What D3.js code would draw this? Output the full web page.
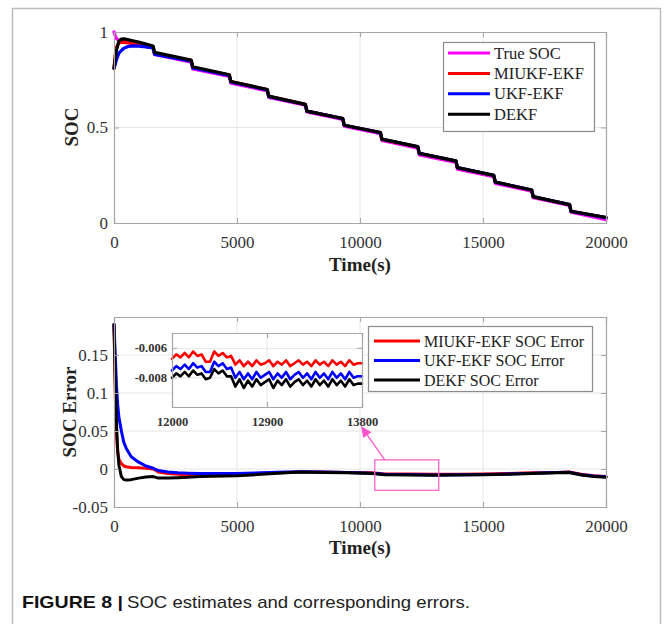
<!DOCTYPE html>
<html>
<head>
<meta charset="utf-8">
<script src="https://cdn.jsdelivr.net/npm/d3@7"></script>
<style>
  html, body { margin: 0; padding: 0; background: #fff; }
  svg { display: block; }
</style>
</head>
<body>
<svg id="fig" width="664" height="624"></svg>
<script>
// ---- SOC estimates (top panel) ----
const socTime = [0,50,100,200,300,400,600,800,1000,1300,1590,1650,3140,3200,4690,4750,6230,6290,7780,7840,9300,9360,10830,10890,12350,12410,13900,13960,15440,15500,16980,17040,18520,18580,20000];
const socTrue = [1.000,0.980,0.965,0.957,0.953,0.950,0.945,0.940,0.935,0.926,0.917,0.882,0.842,0.807,0.767,0.732,0.692,0.657,0.617,0.582,0.542,0.507,0.467,0.432,0.392,0.357,0.317,0.282,0.242,0.207,0.167,0.132,0.092,0.057,0.018];
const socMIUKF = [0.810,0.880,0.920,0.944,0.946,0.946,0.943,0.938,0.934,0.925,0.917,0.885,0.850,0.815,0.775,0.740,0.698,0.663,0.621,0.586,0.5465,0.5115,0.473,0.438,0.3986,0.3635,0.324,0.289,0.2485,0.2135,0.172,0.137,0.096,0.061,0.028];
const socUKF = [0.810,0.830,0.855,0.889,0.903,0.915,0.925,0.927,0.926,0.922,0.916,0.883,0.8475,0.8125,0.773,0.738,0.6968,0.6618,0.6206,0.5856,0.5465,0.5115,0.4735,0.4385,0.3994,0.3644,0.3248,0.2898,0.2491,0.2141,0.1727,0.1377,0.0962,0.0612,0.0283];
const socDEKF = [0.810,0.860,0.905,0.952,0.963,0.964,0.959,0.953,0.947,0.937,0.927,0.893,0.853,0.818,0.776,0.741,0.699,0.664,0.621,0.586,0.547,0.512,0.474,0.439,0.400,0.365,0.325,0.290,0.2495,0.2145,0.173,0.138,0.0965,0.0615,0.029];

// ---- SOC errors (bottom panel) ----
const errTime = [0,50,100,150,200,300,400,500,700,1000,1300,1600,1800,2200,2600,3000,3500,4000,5000,6000,7000,7600,8500,9500,10500,11000,12000,13000,14000,15000,16000,17000,18000,18500,19000,19500,20000];
const errMIUKF = [0.190,0.100,0.045,0.022,0.013,0.007,0.004,0.003,0.002,0.0015,0.001,0.000,-0.004,-0.006,-0.007,-0.008,-0.009,-0.0085,-0.008,-0.006,-0.0045,-0.004,-0.004,-0.0045,-0.005,-0.0065,-0.0066,-0.007,-0.0068,-0.0065,-0.006,-0.005,-0.0045,-0.004,-0.007,-0.009,-0.010];
const errUKF = [0.190,0.150,0.110,0.085,0.068,0.050,0.035,0.027,0.016,0.009,0.004,0.001,-0.002,-0.004,-0.005,-0.0055,-0.006,-0.006,-0.006,-0.005,-0.004,-0.0035,-0.004,-0.0045,-0.0055,-0.007,-0.0074,-0.0079,-0.0077,-0.0072,-0.0067,-0.0057,-0.0047,-0.0042,-0.0075,-0.0093,-0.0103];
const errDEKF = [0.190,0.120,0.060,0.025,0.005,-0.010,-0.014,-0.0145,-0.014,-0.012,-0.0105,-0.010,-0.012,-0.012,-0.0115,-0.011,-0.010,-0.0095,-0.009,-0.007,-0.005,-0.004,-0.0045,-0.005,-0.006,-0.0075,-0.008,-0.0083,-0.008,-0.0075,-0.007,-0.006,-0.005,-0.0045,-0.008,-0.010,-0.011];

// ---- zoomed window 12000-13800 s (values in 1e-3) ----
const zoomTime = [12000,12040,12080,12120,12160,12200,12240,12280,12320,12360,12400,12440,12480,12520,12560,12600,12640,12680,12720,12760,12800,12840,12880,12920,12960,13000,13040,13080,13120,13160,13200,13240,13280,13320,13360,13400,13440,13480,13520,13560,13600,13640,13680,13720,13760,13800];
const zoomMIUKF = [-6.7,-6.4,-6.6,-6.3,-6.6,-6.2,-6.5,-6.4,-6.9,-6.9,-6.2,-6.5,-6.3,-6.6,-6.5,-7.1,-6.8,-7.2,-6.9,-7.2,-6.8,-7.1,-7.0,-6.8,-7.2,-6.9,-7.1,-6.8,-7.2,-7.0,-6.8,-7.1,-6.9,-7.2,-6.8,-7.1,-6.9,-7.2,-6.8,-7.1,-6.9,-7.2,-6.8,-7.1,-7.0,-7.0];
const zoomUKF = [-7.5,-7.2,-7.4,-7.1,-7.4,-7.0,-7.3,-7.2,-7.6,-7.6,-6.9,-7.2,-7.0,-7.4,-7.3,-8.0,-7.6,-8.1,-7.7,-8.1,-7.6,-8.0,-7.8,-7.6,-8.1,-7.7,-8.0,-7.6,-8.1,-7.8,-7.6,-8.0,-7.7,-8.1,-7.6,-8.0,-7.7,-8.1,-7.6,-8.0,-7.7,-8.1,-7.6,-8.0,-7.9,-7.9];
const zoomDEKF = [-8.0,-7.7,-7.9,-7.6,-7.9,-7.5,-7.8,-7.7,-8.1,-8.0,-7.4,-7.7,-7.5,-7.9,-7.9,-8.6,-8.1,-8.7,-8.2,-8.6,-8.1,-8.5,-8.3,-8.1,-8.7,-8.2,-8.5,-8.1,-8.6,-8.3,-8.1,-8.5,-8.2,-8.6,-8.1,-8.5,-8.2,-8.6,-8.1,-8.5,-8.2,-8.6,-8.1,-8.5,-8.4,-8.4];

// ---- ticks and labels ----
const timeTicks = [0,5000,10000,15000,20000];
const socTicks = [0,0.5,1];
const socTickLabels = ["0","0.5","1"];
const errTicks = [-0.05,0,0.05,0.1,0.15];
const errTickLabels = ["-0.05","0","0.05","0.1","0.15"];
const zoomXTicks = [12000,12900,13800];
const zoomYTicks = [-0.006,-0.008];
const zoomYTickLabels = ["-0.006","-0.008"];
const socNames = ["True SOC","MIUKF-EKF","UKF-EKF","DEKF"];
const errNames = ["MIUKF-EKF SOC Error","UKF-EKF SOC Error","DEKF SOC Error"];
const zoomBox = { t0: 10600, t1: 13200, e0: -0.028, e1: 0.012 };

const colTrue = "#ff00ff", colMI = "#ff0000", colUKF = "#0000ff", colDEKF = "#000000";
const serif = "'Liberation Serif','Times New Roman',serif";
const axisGray = "#a6a6a6", gridGray = "#e6e6e6", labelCol = "#333";

const svg = d3.select("#fig");

// outer figure frame
svg.append("path")
  .attr("d", "M12.5,624 V8.5 H660.5 V624")
  .attr("fill", "none").attr("stroke", "#bdbdbd").attr("stroke-width", 1.5);

function panel(x, y, opts) {
  const g = svg.append("g");
  const [x0, x1] = x.range(), [y0, y1] = y.range();
  // grid
  g.append("g").selectAll("line").data(opts.xGrid).join("line")
    .attr("x1", d => x(d)).attr("x2", d => x(d)).attr("y1", y0).attr("y2", y1)
    .attr("stroke", gridGray).attr("stroke-width", 1);
  g.append("g").selectAll("line").data(opts.yGrid).join("line")
    .attr("y1", d => y(d)).attr("y2", d => y(d)).attr("x1", x0).attr("x2", x1)
    .attr("stroke", gridGray).attr("stroke-width", 1);
  return g;
}

function frameAxes(g, x, y, xt, yt, xfmt, yfmt, fs, bold, pad) {
  const [x0, x1] = x.range(), [y0, y1] = y.range();
  const ax = g.append("g").attr("transform", `translate(0,${y0})`)
    .call(d3.axisBottom(x).tickValues(xt).tickSize(-5).tickPadding(pad.x).tickFormat(xfmt));
  const ay = g.append("g").attr("transform", `translate(${x0},0)`)
    .call(d3.axisLeft(y).tickValues(yt).tickSize(-5).tickPadding(pad.y).tickFormat(yfmt));
  const at = g.append("g").attr("transform", `translate(0,${y1})`)
    .call(d3.axisTop(x).tickValues(xt).tickSize(-5).tickFormat(""));
  const ar = g.append("g").attr("transform", `translate(${x1},0)`)
    .call(d3.axisRight(y).tickValues(yt).tickSize(-5).tickFormat(""));
  [ax, ay, at, ar].forEach(a => {
    a.selectAll("path.domain").attr("stroke", axisGray).attr("stroke-width", 1.2);
    a.selectAll(".tick line").attr("stroke", axisGray);
    a.selectAll("text").attr("fill", labelCol).style("font-family", serif)
      .style("font-size", fs + "px").style("font-weight", bold ? "bold" : "normal");
  });
}

function drawLine(g, x, y, ts, vs, color, w, scale) {
  const pts = ts.map((t, i) => [t, vs[i] * (scale || 1)]);
  g.append("path").datum(pts)
    .attr("d", d3.line().x(d => x(d[0])).y(d => y(d[1])))
    .attr("fill", "none").attr("stroke", color).attr("stroke-width", w)
    .attr("stroke-linejoin", "round").attr("stroke-linecap", "round");
}

// ================= top panel =================
const x1s = d3.scaleLinear([0, 20000], [114, 606]);
const y1s = d3.scaleLinear([0, 1], [223, 32]);
const gTop = panel(x1s, y1s, { xGrid: [5000, 10000, 15000], yGrid: [0.5] });
const clipTop = svg.append("clipPath").attr("id", "clipTop").append("rect")
  .attr("x", 114).attr("y", 28).attr("width", 494).attr("height", 197);
const gTopLines = gTop.append("g");
drawLine(gTopLines, x1s, y1s, socTime, socTrue, colTrue, 3.2);
drawLine(gTopLines, x1s, y1s, socTime, socMIUKF, colMI, 3.2);
drawLine(gTopLines, x1s, y1s, socTime, socUKF, colUKF, 3.2);
drawLine(gTopLines, x1s, y1s, socTime, socDEKF, colDEKF, 3.2);
frameAxes(gTop, x1s, y1s, timeTicks, socTicks, d3.format("d"), (d, i) => socTickLabels[socTicks.indexOf(d)], 17, false, { x: 13, y: 6 });

gTop.append("text").attr("x", 360).attr("y", 271).attr("text-anchor", "middle")
  .style("font-family", serif).style("font-size", "19px").style("font-weight", "bold")
  .attr("fill", "#222").text("Time(s)");
gTop.append("text").attr("transform", "translate(78,127) rotate(-90)").attr("text-anchor", "middle")
  .style("font-family", serif).style("font-size", "19px").style("font-weight", "bold")
  .attr("fill", "#222").text("SOC");

// legend (top)
const lgTop = gTop.append("g");
lgTop.append("rect").attr("x", 443.5).attr("y", 42.5).attr("width", 151).attr("height", 89)
  .attr("fill", "#fff").attr("stroke", "#8c8c8c").attr("stroke-width", 1.2);
[colTrue, colMI, colUKF, colDEKF].forEach((c, i) => {
  const yy = 53 + i * 20.4;
  lgTop.append("line").attr("x1", 448).attr("x2", 490).attr("y1", yy).attr("y2", yy)
    .attr("stroke", c).attr("stroke-width", 3);
  lgTop.append("text").attr("x", 494).attr("y", yy + 5.5)
    .style("font-family", serif).style("font-size", "16.5px").attr("fill", "#222").text(socNames[i]);
});

// ================= bottom panel =================
const x2s = d3.scaleLinear([0, 20000], [114, 606]);
const y2s = d3.scaleLinear([-0.05, 0.2], [507, 317]);
const gBot = panel(x2s, y2s, { xGrid: [5000, 10000, 15000], yGrid: errTicks.slice(1) });
drawLine(gBot, x2s, y2s, errTime, errMIUKF, colMI, 3);
drawLine(gBot, x2s, y2s, errTime, errUKF, colUKF, 3);
drawLine(gBot, x2s, y2s, errTime, errDEKF, colDEKF, 3);
frameAxes(gBot, x2s, y2s, timeTicks, errTicks, d3.format("d"), d => errTickLabels[errTicks.indexOf(d)], 17, false, { x: 13, y: 6 });

gBot.append("text").attr("x", 360).attr("y", 554).attr("text-anchor", "middle")
  .style("font-family", serif).style("font-size", "19px").style("font-weight", "bold")
  .attr("fill", "#222").text("Time(s)");
gBot.append("text").attr("transform", "translate(76,412) rotate(-90)").attr("text-anchor", "middle")
  .style("font-family", serif).style("font-size", "19px").style("font-weight", "bold")
  .attr("fill", "#222").text("SOC Error");

// legend (bottom)
const lgBot = gBot.append("g");
lgBot.append("rect").attr("x", 368.5).attr("y", 326.5).attr("width", 224).attr("height", 65)
  .attr("fill", "#fff").attr("stroke", "#8c8c8c").attr("stroke-width", 1.2);
[colMI, colUKF, colDEKF].forEach((c, i) => {
  const yy = 341 + i * 19.5;
  lgBot.append("line").attr("x1", 374).attr("x2", 420).attr("y1", yy).attr("y2", yy)
    .attr("stroke", c).attr("stroke-width", 3);
  lgBot.append("text").attr("x", 424).attr("y", yy + 5.5)
    .style("font-family", serif).style("font-size", "16px").attr("fill", "#222").text(errNames[i]);
});

// highlighted window and pointer
const bx0 = x2s(zoomBox.t0), bx1 = x2s(zoomBox.t1), by0 = y2s(zoomBox.e1), by1 = y2s(zoomBox.e0);
gBot.append("rect").attr("x", bx0).attr("y", by0).attr("width", bx1 - bx0).attr("height", by1 - by0)
  .attr("fill", "none").attr("stroke", "#ff66cc").attr("stroke-width", 1.3);

// ================= inset =================
const xis = d3.scaleLinear([12000, 13800], [172, 362]);
const yis = d3.scaleLinear([-0.010, -0.005], [407, 334]);
const gIn = svg.append("g");
gIn.append("rect").attr("x", 172).attr("y", 333).attr("width", 190).attr("height", 74).attr("fill", "#fff");
gIn.selectAll("line.gx").data([12900]).join("line").attr("class", "gx")
  .attr("x1", d => xis(d)).attr("x2", d => xis(d)).attr("y1", 333).attr("y2", 407)
  .attr("stroke", gridGray);
gIn.selectAll("line.gy").data(zoomYTicks).join("line").attr("class", "gy")
  .attr("y1", d => yis(d)).attr("y2", d => yis(d)).attr("x1", 172).attr("x2", 362)
  .attr("stroke", gridGray);
drawLine(gIn, xis, yis, zoomTime, zoomMIUKF, colMI, 2.6, 1e-3);
drawLine(gIn, xis, yis, zoomTime, zoomUKF, colUKF, 2.6, 1e-3);
drawLine(gIn, xis, yis, zoomTime, zoomDEKF, colDEKF, 2.6, 1e-3);
yis.range([407, 333]);
frameAxes(gIn, xis, yis, zoomXTicks, zoomYTicks, d3.format("d"), d => zoomYTickLabels[zoomYTicks.indexOf(d)], 12.5, true, { x: 10, y: 5 });
yis.range([407, 334]);

// arrow from window to inset
const tail = [bx0 + 10, by0], tip = [xis(13800) - 1, 426];
const ang = Math.atan2(tip[1] - tail[1], tip[0] - tail[0]);
const headLen = 11, headW = 5;
const base = [tip[0] - headLen * Math.cos(ang), tip[1] - headLen * Math.sin(ang)];
svg.append("line").attr("x1", tail[0]).attr("y1", tail[1]).attr("x2", base[0]).attr("y2", base[1])
  .attr("stroke", "#ff55cc").attr("stroke-width", 1.3);
svg.append("polygon")
  .attr("points", [tip,
    [base[0] + headW * Math.sin(ang), base[1] - headW * Math.cos(ang)],
    [base[0] - headW * Math.sin(ang), base[1] + headW * Math.cos(ang)]].map(p => p.join(",")).join(" "))
  .attr("fill", "#ff55cc");

// ================= caption =================
const sans = "'Liberation Sans Narrow','Liberation Sans',Arial,sans-serif";
svg.append("text").attr("x", 22).attr("y", 608)
  .attr("textLength", 101).attr("lengthAdjust", "spacingAndGlyphs")
  .style("font-family", sans).style("font-size", "17px").style("font-weight", "bold")
  .attr("fill", "#111").text("FIGURE 8 |");
svg.append("text").attr("x", 127).attr("y", 608)
  .attr("textLength", 343).attr("lengthAdjust", "spacingAndGlyphs")
  .style("font-family", sans).style("font-size", "17px")
  .attr("fill", "#222").text("SOC estimates and corresponding errors.");
</script>
</body>
</html>
